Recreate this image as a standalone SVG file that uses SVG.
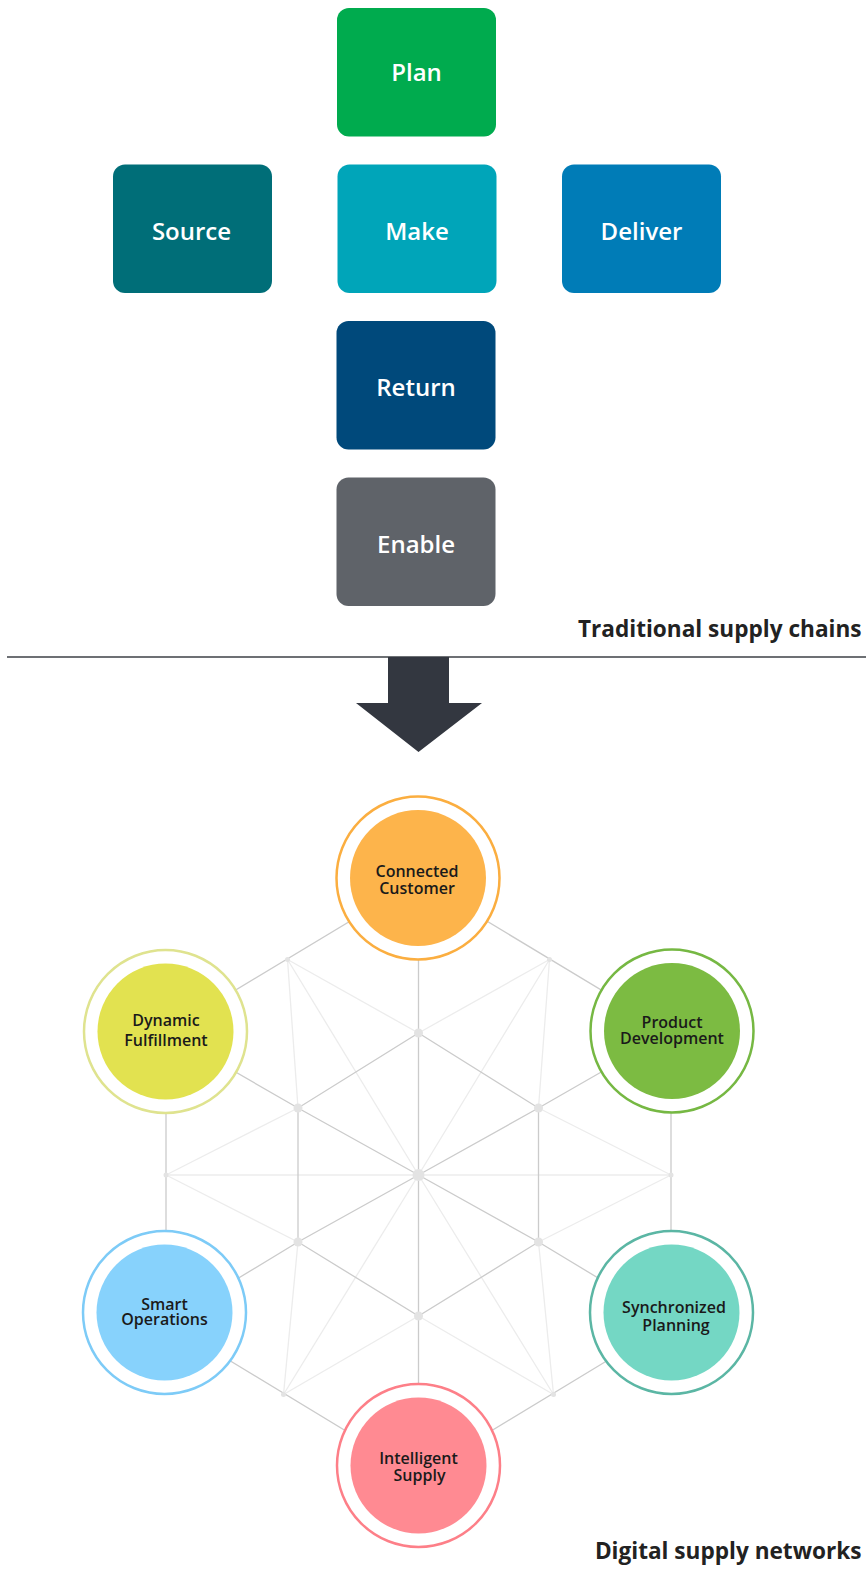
<svg xmlns="http://www.w3.org/2000/svg" width="866" height="1574" viewBox="0 0 866 1574">
<style>
.box-label{font-family:"Open Sans","Liberation Sans",sans-serif;font-weight:600;font-size:24px;fill:#ffffff;text-anchor:middle}
.title{font-family:"Open Sans","Liberation Sans",sans-serif;font-weight:700;font-size:22.6px;fill:#222222;text-anchor:end}
.c-label{font-family:"Open Sans","Liberation Sans",sans-serif;font-weight:600;font-size:16px;fill:#1a1a1a;text-anchor:middle}
.dark{stroke:#cbcbcb;stroke-width:1.3;fill:none}
.light{stroke:#ececec;stroke-width:1.3;fill:none}
.ring{fill:#ffffff;stroke-width:2.5}
.dot{fill:#e3e3e3}
</style>
<rect width="866" height="1574" fill="#ffffff"/>

<g id="plan"><rect x="337" y="8" width="159" height="128.5" rx="12" fill="#00AB4E"/><text class="box-label" x="416.5" y="80.5">Plan</text></g>
<g id="source"><rect x="113" y="164.5" width="159" height="128.5" rx="12" fill="#006E78"/><text class="box-label" x="191.5" y="239.5">Source</text></g>
<g id="make"><rect x="337.5" y="164.5" width="159" height="128.5" rx="12" fill="#00A5B9"/><text class="box-label" x="417" y="239.5">Make</text></g>
<g id="deliver"><rect x="562" y="164.5" width="159" height="128.5" rx="12" fill="#007CB7"/><text class="box-label" x="641.5" y="239.5">Deliver</text></g>
<g id="return"><rect x="336.5" y="321" width="159" height="128.5" rx="12" fill="#00497B"/><text class="box-label" x="416" y="396">Return</text></g>
<g id="enable"><rect x="336.5" y="477.5" width="159" height="128.5" rx="12" fill="#5F6369"/><text class="box-label" x="416" y="552.5">Enable</text></g>

<g id="title-traditional"><text class="title" x="861.5" y="637">Traditional supply chains</text></g>
<line x1="7" y1="657" x2="866" y2="657" stroke="#3d4046" stroke-width="1.5"/>

<g id="connectors">
<polygon points="388,657 449,657 449,703 482,703 418.5,752 356,703 388,703" fill="#333740"/>
<g class="light">
<polyline points="166,1175 418.5,1175 671,1175"/>
<polyline points="298,1108 287.5,959.5 418.5,1175"/>
<line x1="287.5" y1="959.5" x2="418.5" y2="1033"/>
<polyline points="538.5,1108 549.5,959.5 418.5,1175"/>
<line x1="549.5" y1="959.5" x2="418.5" y2="1033"/>
<line x1="671" y1="1175" x2="538.5" y2="1108"/>
<line x1="671" y1="1175" x2="538.5" y2="1242"/>
<line x1="166" y1="1175" x2="298" y2="1108"/>
<line x1="166" y1="1175" x2="298" y2="1242"/>
<polyline points="298,1242 283.5,1394.5 418.5,1175"/>
<line x1="283.5" y1="1394.5" x2="418.5" y2="1316"/>
<polyline points="538.5,1242 553.5,1394.5 418.5,1175"/>
<line x1="553.5" y1="1394.5" x2="418.5" y2="1316"/>
</g>
<g class="dark">
<polygon points="418.5,880 671,1032 671,1322 418.5,1475 166,1322 166,1032"/>
<line x1="418.5" y1="880" x2="418.5" y2="1475"/>
<polyline points="166,1032 298,1108 418.5,1175"/>
<polyline points="671,1032 538.5,1108 418.5,1175"/>
<polyline points="166,1322 298,1242 418.5,1175"/>
<polyline points="671,1322 538.5,1242 418.5,1175"/>
<polygon points="418.5,1033 538.5,1108 538.5,1242 418.5,1316 298,1242 298,1108"/>
</g>
<g class="dot">
<circle cx="418.5" cy="1175" r="6"/>
<circle cx="418.5" cy="1033" r="4.5"/>
<circle cx="538.5" cy="1108" r="4.5"/>
<circle cx="538.5" cy="1242" r="4.5"/>
<circle cx="418.5" cy="1316" r="4.5"/>
<circle cx="298" cy="1242" r="4.5"/>
<circle cx="298" cy="1108" r="4.5"/>
<circle cx="287.5" cy="959.5" r="2.5"/>
<circle cx="549.5" cy="959.5" r="2.5"/>
<circle cx="671" cy="1175" r="2.5"/>
<circle cx="553.5" cy="1394.5" r="2.5"/>
<circle cx="283.5" cy="1394.5" r="2.5"/>
<circle cx="166" cy="1175" r="2.5"/>
</g>
</g>

<g id="connected-customer">
<circle class="ring" cx="418" cy="878" r="81.5" stroke="#FBAE40"/>
<circle cx="418" cy="878" r="68" fill="#FDB44B"/>
<text class="c-label" x="417" y="877">Connected<tspan x="417" y="894">Customer</tspan></text>
</g>
<g id="dynamic-fulfillment">
<circle class="ring" cx="165.5" cy="1031.5" r="81.5" stroke="#DFE38F"/>
<circle cx="165.5" cy="1031.5" r="68" fill="#E2E250"/>
<text class="c-label" x="166" y="1026">Dynamic<tspan x="166" y="1046">Fulfillment</tspan></text>
</g>
<g id="product-development">
<circle class="ring" cx="672" cy="1031" r="81.5" stroke="#76B843"/>
<circle cx="672" cy="1031" r="68" fill="#7CBB42"/>
<text class="c-label" x="672" y="1028">Product<tspan x="672" y="1044">Development</tspan></text>
</g>
<g id="smart-operations">
<circle class="ring" cx="164.5" cy="1312.5" r="81.5" stroke="#7DCBF7"/>
<circle cx="164.5" cy="1312.5" r="68" fill="#87D2FC"/>
<text class="c-label" x="164.5" y="1310">Smart<tspan x="164.5" y="1325">Operations</tspan></text>
</g>
<g id="synchronized-planning">
<circle class="ring" cx="671.5" cy="1312.5" r="81.5" stroke="#5BB6A4"/>
<circle cx="671.5" cy="1312.5" r="68" fill="#74D7C4"/>
<text class="c-label" x="674" y="1313">Synchronized<tspan x="676" y="1331">Planning</tspan></text>
</g>
<g id="intelligent-supply">
<circle class="ring" cx="418.5" cy="1465.5" r="81.5" stroke="#FD7F88"/>
<circle cx="418.5" cy="1465.5" r="68" fill="#FF8A92"/>
<text class="c-label" x="418.5" y="1464">Intelligent<tspan x="419.5" y="1481">Supply</tspan></text>
</g>

<g id="title-digital"><text class="title" x="861.5" y="1559">Digital supply networks</text></g>
</svg>
